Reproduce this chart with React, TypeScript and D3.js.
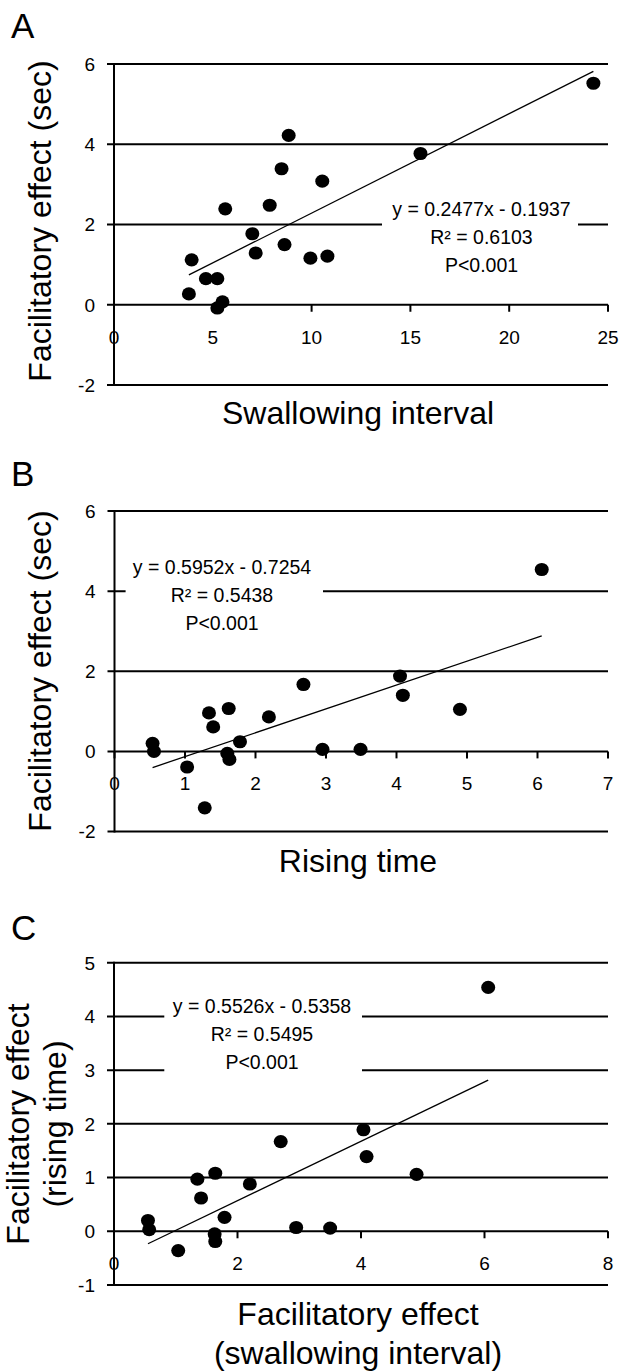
import React from 'react';
import * as d3 from 'd3';

// ---------- DATA ----------
// Panel A: swallowing interval vs facilitatory effect (sec)
const aX = [8.84, 8.48, 10.54, 15.51, 24.26, 7.88, 5.63, 7.0, 8.63, 7.17, 9.94, 10.8, 3.93, 4.65, 5.23, 3.79, 5.49, 5.23];
const aY = [4.22, 3.39, 3.08, 3.77, 5.52, 2.48, 2.39, 1.77, 1.5, 1.29, 1.16, 1.21, 1.12, 0.65, 0.65, 0.27, 0.07, -0.08];
const aXTicks = [0, 5, 10, 15, 20, 25];
const aYTicks = [-2, 0, 2, 4, 6];
const aSlope = 0.2477;
const aIntercept = -0.1937;
const aEquation = ['y = 0.2477x - 0.1937', 'R² = 0.6103', 'P<0.001'];

// Panel B: rising time vs facilitatory effect (sec)
const bX = [6.06, 4.05, 2.68, 4.09, 4.9, 1.62, 1.34, 2.19, 1.4, 1.78, 0.54, 0.56, 2.95, 3.49, 1.6, 1.63, 1.03, 1.28];
const bY = [4.54, 1.88, 1.67, 1.4, 1.05, 1.07, 0.96, 0.86, 0.61, 0.24, 0.2, 0.0, 0.05, 0.05, -0.05, -0.2, -0.39, -1.41];
const bXTicks = [0, 1, 2, 3, 4, 5, 6, 7];
const bYTicks = [-2, 0, 2, 4, 6];
const bSlope = 0.5952;
const bIntercept = -0.7254;
const bEquation = ['y = 0.5952x - 0.7254', 'R² = 0.5438', 'P<0.001'];

// Panel C: facilitatory effect (swallowing interval) vs facilitatory effect (rising time)
const cX = [6.06, 4.04, 2.7, 4.09, 4.9, 1.64, 1.35, 2.2, 1.41, 1.79, 0.55, 0.57, 2.95, 3.5, 1.63, 1.64, 1.04];
const cY = [4.54, 1.89, 1.67, 1.39, 1.06, 1.08, 0.97, 0.88, 0.62, 0.26, 0.2, 0.03, 0.07, 0.06, -0.05, -0.19, -0.36];
const cXTicks = [0, 2, 4, 6, 8];
const cYTicks = [-1, 0, 1, 2, 3, 4, 5];
const cSlope = 0.5526;
const cIntercept = -0.5358;
const cEquation = ['y = 0.5526x - 0.5358', 'R² = 0.5495', 'P<0.001'];

const FONT = '"Liberation Sans", Arial, Helvetica, sans-serif';

type PanelCfg = {
  letter: string;
  letterY: number;
  xs: number[];
  ys: number[];
  xTicks: number[];
  yTicks: number[];
  slope: number;
  intercept: number;
  equation: string[];
  left: number;
  right: number;
  top: number;
  bottom: number;
  eqX: number;
  eqY: number;
  boxX0: number;
  boxX1: number;
  boxY0: number;
  boxY1: number;
  xTitle: string[];
  xTitleY: number;
  yTitle: string[];
  yTitleX: number[];
  yTitleCY: number;
};

function Panel({ cfg }: { cfg: PanelCfg }) {
  const xDom = d3.extent(cfg.xTicks) as [number, number];
  const yDom = d3.extent(cfg.yTicks) as [number, number];
  const x = d3.scaleLinear().domain(xDom).range([cfg.left, cfg.right]);
  const y = d3.scaleLinear().domain(yDom).range([cfg.bottom, cfg.top]);
  const [xmin, xmax] = d3.extent(cfg.xs) as [number, number];
  const fit = (v: number) => cfg.slope * v + cfg.intercept;
  const trend = d3
    .line<[number, number]>()
    .x((d) => x(d[0]))
    .y((d) => y(d[1]))([
    [xmin, fit(xmin)],
    [xmax, fit(xmax)],
  ]);
  const y0 = y(0);
  const lineH = 28;
  return (
    <g>
      <text x={11} y={cfg.letterY} fontFamily={FONT} fontSize={35} fill="#000">
        {cfg.letter}
      </text>
      {/* gridlines with left tick marks */}
      {cfg.yTicks.map((t) => (
        <line key={'g' + t} x1={cfg.left - 7} x2={cfg.right} y1={y(t)} y2={y(t)} stroke="#000" strokeWidth={2} />
      ))}
      {/* y tick labels */}
      {cfg.yTicks.map((t) => (
        <text
          key={'yl' + t}
          x={cfg.left - 19}
          y={y(t)}
          dy="0.36em"
          textAnchor="end"
          fontFamily={FONT}
          fontSize={19}
          fill="#000"
        >
          {t}
        </text>
      ))}
      {/* equation box */}
      <rect x={cfg.boxX0} y={cfg.boxY0} width={cfg.boxX1 - cfg.boxX0} height={cfg.boxY1 - cfg.boxY0} fill="#fff" />
      {cfg.equation.map((s, i) => (
        <text
          key={'eq' + i}
          x={cfg.eqX}
          y={cfg.eqY + i * lineH}
          textAnchor="middle"
          fontFamily={FONT}
          fontSize={19.5}
          fill="#000"
        >
          {s}
        </text>
      ))}
      {/* x ticks on zero line */}
      {cfg.xTicks.map((t) => (
        <line key={'xt' + t} x1={x(t)} x2={x(t)} y1={y0} y2={y0 + 7} stroke="#000" strokeWidth={2} />
      ))}
      {cfg.xTicks.map((t) => (
        <text
          key={'xl' + t}
          x={x(t)}
          y={y0 + 39}
          textAnchor="middle"
          fontFamily={FONT}
          fontSize={19}
          fill="#000"
        >
          {t}
        </text>
      ))}
      {/* y axis */}
      <line x1={cfg.left} x2={cfg.left} y1={cfg.top - 1} y2={cfg.bottom + 1} stroke="#000" strokeWidth={2} />
      {/* trendline */}
      <path d={trend || ''} stroke="#000" strokeWidth={1.3} fill="none" />
      {/* points */}
      {cfg.xs.map((v, i) => (
        <ellipse key={'p' + i} cx={x(v)} cy={y(cfg.ys[i])} rx={7} ry={6.6} fill="#000" />
      ))}
      {/* titles */}
      {cfg.xTitle.map((s, i) => (
        <text
          key={'xtitle' + i}
          x={358}
          y={cfg.xTitleY + i * 39}
          textAnchor="middle"
          fontFamily={FONT}
          fontSize={32}
          fill="#000"
        >
          {s}
        </text>
      ))}
      {cfg.yTitle.map((s, i) => (
        <text
          key={'ytitle' + i}
          transform={`translate(${cfg.yTitleX[i]},${cfg.yTitleCY}) rotate(-90)`}
          textAnchor="middle"
          fontFamily={FONT}
          fontSize={32}
          fill="#000"
        >
          {s}
        </text>
      ))}
    </g>
  );
}

const panels: PanelCfg[] = [
  {
    letter: 'A',
    letterY: 38,
    xs: aX,
    ys: aY,
    xTicks: aXTicks,
    yTicks: aYTicks,
    slope: aSlope,
    intercept: aIntercept,
    equation: aEquation,
    left: 114,
    right: 608,
    top: 64,
    bottom: 385,
    eqX: 481.5,
    eqY: 216,
    boxX0: 382,
    boxX1: 578,
    boxY0: 196,
    boxY1: 280,
    xTitle: ['Swallowing interval'],
    xTitleY: 424,
    yTitle: ['Facilitatory effect (sec)'],
    yTitleX: [51],
    yTitleCY: 221,
  },
  {
    letter: 'B',
    letterY: 486,
    xs: bX,
    ys: bY,
    xTicks: bXTicks,
    yTicks: bYTicks,
    slope: bSlope,
    intercept: bIntercept,
    equation: bEquation,
    left: 114.5,
    right: 608,
    top: 511,
    bottom: 831.5,
    eqX: 222,
    eqY: 574,
    boxX0: 125.6,
    boxX1: 323,
    boxY0: 554,
    boxY1: 638,
    xTitle: ['Rising time'],
    xTitleY: 872,
    yTitle: ['Facilitatory effect (sec)'],
    yTitleX: [51],
    yTitleCY: 671,
  },
  {
    letter: 'C',
    letterY: 940,
    xs: cX,
    ys: cY,
    xTicks: cXTicks,
    yTicks: cYTicks,
    slope: cSlope,
    intercept: cIntercept,
    equation: cEquation,
    left: 114,
    right: 608,
    top: 962.7,
    bottom: 1285,
    eqX: 262,
    eqY: 1013.3,
    boxX0: 164.3,
    boxX1: 362,
    boxY0: 993,
    boxY1: 1078,
    xTitle: ['Facilitatory effect', '(swallowing interval)'],
    xTitleY: 1325,
    yTitle: ['Facilitatory effect', '(rising time)'],
    yTitleX: [29, 66],
    yTitleCY: 1124,
  },
];

export default function App() {
  return (
    <svg
      width={619}
      height={1371}
      viewBox="0 0 619 1371"
      style={{ position: 'absolute', left: 0, top: 0, background: '#fff' }}
    >
      <rect x={0} y={0} width={619} height={1371} fill="#fff" />
      {panels.map((p) => (
        <Panel key={p.letter} cfg={p} />
      ))}
    </svg>
  );
}
